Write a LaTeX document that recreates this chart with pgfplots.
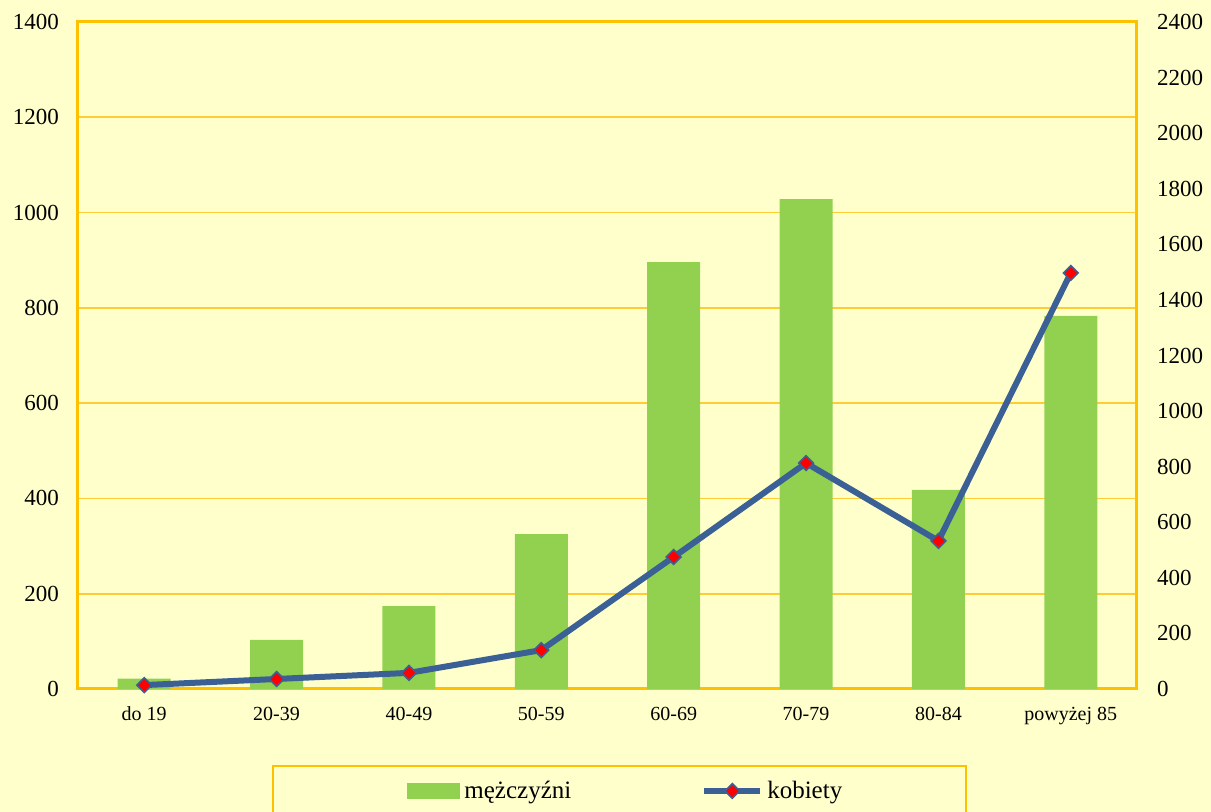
\documentclass[border=0pt]{standalone}
\usepackage{fontspec}
\setmainfont{Liberation Serif}
\usepackage{pgfplots}
\usepackage{pgfplotstable}
\pgfplotsset{compat=1.18}

\definecolor{bg}{HTML}{FFFFCC}
\definecolor{frame}{HTML}{FFC000}
\definecolor{gridc}{HTML}{FFCC33}
\definecolor{barc}{HTML}{92D050}
\definecolor{linec}{HTML}{3A6095}

% x: category index, m: mezczyzni (left axis), k: kobiety (right axis)
\pgfplotstableread{
x m k
0 22 14
1 103 36
2 174 58
3 325 140
4 896 475
5 1028 813
6 418 533
7 783 1497
}\data

\pgfplotsset{
  common/.style={
    scale only axis, width=529.5pt, height=333.5pt,
    at={(0,0)}, anchor=south west,
    xmin=-0.5, xmax=7.5,
    major tick length=0pt,
    /pgf/number format/.cd, 1000 sep={}, assume math mode=true,
  },
  longline legend/.style={
    legend image code/.code={\draw[mark repeat=2, mark phase=2, ##1] plot coordinates {(0pt,0pt) (14pt,0pt) (28pt,0pt)};}
  },
  barbox legend/.style={
    legend image code/.code={\path (0pt,0pt); \fill[barc] (7pt,-3.5pt) rectangle (33pt,3.5pt);}
  },
}

\begin{document}
\begin{tikzpicture}
\clip (-39pt,-61.5pt) rectangle (566.5pt,344.5pt);
\fill[bg] (-39pt,-61.5pt) rectangle (566.5pt,344.5pt);

\begin{axis}[common,
  ymin=0, ymax=1400, ytick distance=200,
  xtick={0,...,7},
  xticklabels={do 19,20-39,40-49,50-59,60-69,70-79,80-84,powyżej 85},
  xticklabel style={font=\fontsize{10}{12}\selectfont, yshift=-5.5pt},
  yticklabel style={font=\fontsize{11.5}{13}\selectfont, xshift=-6pt},
  axis line style={draw=frame, line width=1.5pt},
  ymajorgrids, grid style={draw=gridc, line width=0.8pt},
  axis background/.style={fill=bg},
]
\addplot[ybar, bar width=0.4, fill=barc, draw=none] table[x=x, y=m] {\data};
\end{axis}

\begin{axis}[common,
  ymin=0, ymax=2400, ytick distance=200,
  hide x axis,
  axis y line*=right,
  y axis line style={draw=frame, line width=1.5pt},
  yticklabel style={font=\fontsize{11.5}{13}\selectfont, xshift=6.5pt},
  legend columns=2,
  legend style={at={(rel axis cs:0.1832,-0.1139)}, anchor=north west,
    draw=frame, fill=bg, line width=0.8pt,
    inner xsep=60pt, inner ysep=5.5pt,
    font=\fontsize{12.5}{14}\selectfont,
    /tikz/every even column/.append style={column sep=63pt}},
]
\addlegendimage{barbox legend}
\addlegendentry{mężczyźni}
\addplot[draw=linec, line width=3pt,
  mark=square*, mark size=2.6pt,
  mark options={rotate=45, fill=red, draw=linec, line width=0.8pt},
  longline legend
] table[x=x, y=k] {\data};
\addlegendentry{kobiety}
\end{axis}
\end{tikzpicture}
\end{document}
